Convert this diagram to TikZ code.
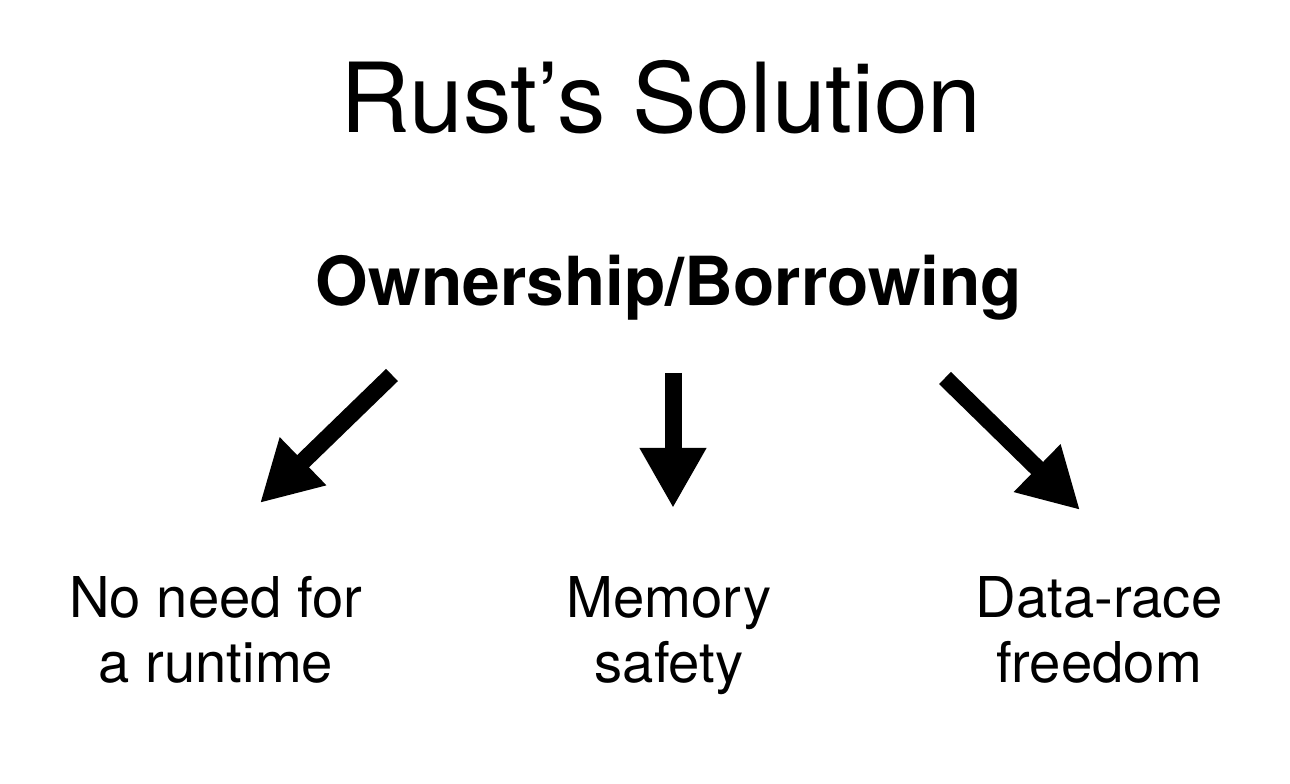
\documentclass[tikz,border=0pt]{standalone}
\usepackage{fontspec}
\setmainfont{TeX Gyre Heros}
\usepackage{tikz}
\usetikzlibrary{arrows.meta,positioning}
\tikzset{
  slide/.style={x=1cm,y=1cm,>=Latex},
  heading/.style={font=\fontsize{55}{60}\selectfont,anchor=base,inner sep=0pt},
  idea/.style={font=\fontsize{38.5}{44}\selectfont\bfseries,anchor=base,inner sep=0pt},
  note/.style={font=\fontsize{32}{37.5}\selectfont,align=center,anchor=base,inner sep=0pt},
  flow/.style={-{Triangle[length=1.2cm,width=1.25cm]},line width=0.34cm,line cap=butt},
}
\begin{document}
\begin{tikzpicture}[slide]
\useasboundingbox (0,0) rectangle (25.8,15.68);
\node[heading] (title) at (13.22,13.02) {Rust’s Solution};
\node[idea] (core) at (13.38,9.56) {Ownership/Borrowing};
\node[note] (runtime) at (4.32,2.02) {No need for\\a runtime};
\node[note] (memory) at (13.38,2.02) {Memory\\safety};
\node[note] (race) at (21.98,2.02) {Data-race\\freedom};
% arrow ends
\coordinate (a1) at (7.84,8.18);
\coordinate (b1) at (5.2,5.62);
\coordinate (a2) at (13.46,8.22);
\coordinate (b2) at (13.46,5.52);
\coordinate (a3) at (18.9,8.12);
\coordinate (b3) at (21.6,5.48);
\draw[flow] (a1) -- (b1);
\draw[flow] (a2) -- (b2);
\draw[flow] (a3) -- (b3);
\end{tikzpicture}
\end{document}
